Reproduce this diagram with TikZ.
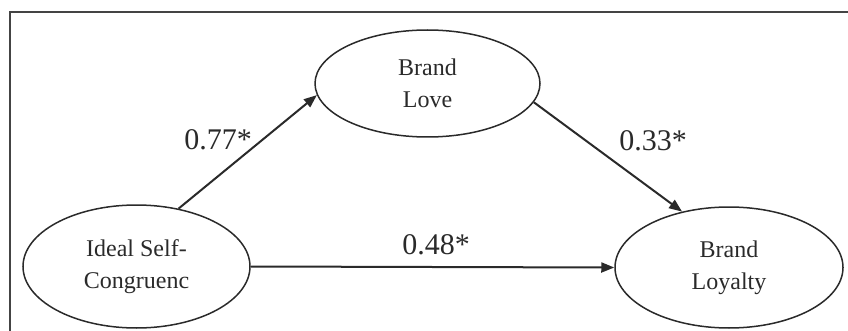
\documentclass[tikz,border=0pt]{standalone}
\usepackage{fontspec}
\setmainfont{Liberation Serif}
\usetikzlibrary{shapes.geometric,arrows.meta}
\definecolor{ink}{HTML}{2A2A2A}
\definecolor{frame}{HTML}{444444}
\tikzset{
  latent/.style={ellipse, draw=ink, line width=1.5pt, inner sep=0pt, align=center,
    text=ink, font=\fontsize{24}{32}\selectfont},
  path/.style={draw=ink, line width=2pt, -{Triangle[length=13pt,width=10pt]}},
  coef/.style={text=ink, font=\fontsize{30}{36}\selectfont, inner sep=0pt}
}
\begin{document}
\begin{tikzpicture}[x=1pt,y=-1pt]
\useasboundingbox (0,0) rectangle (848,331);
\draw[frame, line width=2.5pt] (10,340) -- (10,12) -- (860,12);
\node[latent, minimum width=225pt, minimum height=107pt] (love) at (427.5,83.5) {Brand\\Love};
\node[latent, minimum width=227pt, minimum height=123pt] (ideal) at (136.5,266.5) {Ideal Self-\\Congruenc};
\node[latent, minimum width=228pt, minimum height=121pt] (loyal) at (729,267.5) {Brand\\Loyalty};
\draw[path] (ideal.54) -- (love.186);
\draw[path] (love.-10) -- (loyal.130);
\draw[path] (ideal.east) -- (loyal.west);
\node[coef] (c1) at (218,140) {0.77*};
\node[coef] (c2) at (653,141) {0.33*};
\node[coef] (c3) at (436,245) {0.48*};
\end{tikzpicture}
\end{document}
